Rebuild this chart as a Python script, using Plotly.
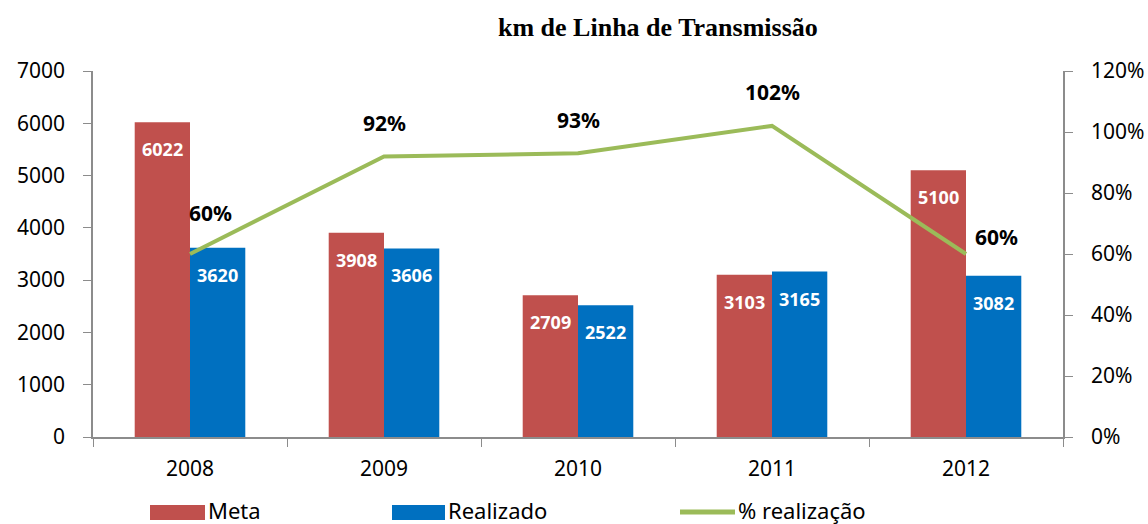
import plotly.graph_objects as go

years = ["2008", "2009", "2010", "2011", "2012"]
meta = [6022, 3908, 2709, 3103, 5100]
realizado = [3620, 3606, 2522, 3165, 3082]
pct = [0.60, 0.92, 0.93, 1.02, 0.60]
pct_labels = ["60%", "92%", "93%", "102%", "60%"]

RED = "#C0504D"
BLUE = "#0070C0"
GREEN = "#9BBB59"
AXIS = "#8C8C8C"
FONT = "Noto Sans"

W, H = 1148, 524
L, R, T, B = 93, 1063, 71, 437
BARGAP = 0.43
CAT_W = (R - L) / len(years)
HALF = CAT_W * (1 - BARGAP) / 4  # half of one bar's width -> bar centre offset

fig = go.Figure()
fig.add_trace(go.Bar(x=years, y=meta, name="Meta", marker_color=RED,
                     marker_line_width=0, showlegend=False))
fig.add_trace(go.Bar(x=years, y=realizado, name="Realizado", marker_color=BLUE,
                     marker_line_width=0, showlegend=False))
fig.add_trace(go.Scatter(x=years, y=pct, name="% realização", mode="lines",
                         line=dict(color=GREEN, width=4), yaxis="y2",
                         showlegend=False))

# bar value labels (inside, near the top)
for i, (m, r) in enumerate(zip(meta, realizado)):
    for v, dx in ((m, -HALF), (r, HALF)):
        fig.add_annotation(x=i, y=v, xref="x", yref="y", text=str(v), showarrow=False,
                           xshift=dx, yshift=-13, yanchor="top",
                           font=dict(family=FONT, size=18, color="white", weight="bold"))

# percent labels (category axis annotations use the category index)
shifts = [(20, 41), (0, 33), (0, 33), (0, 34), (30, 17)]
for i, (v, lab, (dx, dy)) in enumerate(zip(pct, pct_labels, shifts)):
    fig.add_annotation(x=i, y=v, xref="x", yref="y2", text=lab, showarrow=False,
                       xshift=dx, yshift=dy,
                       font=dict(family=FONT, size=21, color="black", weight="bold"))

def px(xp):
    return (xp - L) / (R - L)

def py(yp):
    return (B - yp) / (B - T)

# custom legend
items = [("rect", RED, 150, 205, "Meta"), ("rect", BLUE, 392, 445, "Realizado"),
         ("line", GREEN, 680, 735, "% realização")]
for kind, col, x0, x1, lab in items:
    if kind == "rect":
        fig.add_shape(type="rect", xref="paper", yref="paper",
                      x0=px(x0), x1=px(x1), y0=py(520), y1=py(505),
                      fillcolor=col, line=dict(width=0))
    else:
        fig.add_shape(type="line", xref="paper", yref="paper",
                      x0=px(x0), x1=px(x1), y0=py(512), y1=py(512),
                      line=dict(color=col, width=5))
    fig.add_annotation(xref="paper", yref="paper", x=px(x1 + 1), y=py(510),
                       xanchor="left", yanchor="middle", text=lab, showarrow=False,
                       font=dict(family=FONT, size=22, color="black"))

fig.add_annotation(xref="paper", yref="paper", x=px(658), y=py(28),
                   xanchor="center", yanchor="middle",
                   text="<b>km de Linha de Transmissão</b>", showarrow=False,
                   font=dict(family="Liberation Serif", size=26, color="black"))

fig.update_layout(
    width=W, height=H,
    margin=dict(l=L, r=W - R, t=T, b=H - B, pad=0, autoexpand=False),
    paper_bgcolor="white", plot_bgcolor="white",
    barmode="group", bargap=BARGAP, bargroupgap=0,
    font=dict(family=FONT, size=21, color="black"),
    xaxis=dict(type="category", range=[-0.5, 4.5], showline=True, linecolor=AXIS,
               linewidth=1.5, ticks="outside", tickson="boundaries", tickcolor=AXIS,
               ticklen=8, tickfont=dict(size=21), showgrid=False, automargin=False,
               tickangle=0, ticklabelstandoff=12),
    yaxis=dict(range=[0, 7000], dtick=1000, showline=True, linecolor=AXIS,
               linewidth=1.5, ticks="outside", tickcolor=AXIS, ticklen=8,
               showgrid=False, zeroline=False, tickfont=dict(size=21),
               ticklabelstandoff=14, automargin=False),
    yaxis2=dict(range=[0, 1.2], dtick=0.2, tickformat=".0%", overlaying="y",
                side="right", showline=True, linecolor=AXIS, linewidth=1.5,
                ticks="outside", tickcolor=AXIS, ticklen=8, showgrid=False,
                zeroline=False, tickfont=dict(size=21), ticklabelstandoff=14,
                automargin=False),
)

fig.write_html("out.html", config={"displayModeBar": False},
               post_script="document.body.style.margin='0px';")
